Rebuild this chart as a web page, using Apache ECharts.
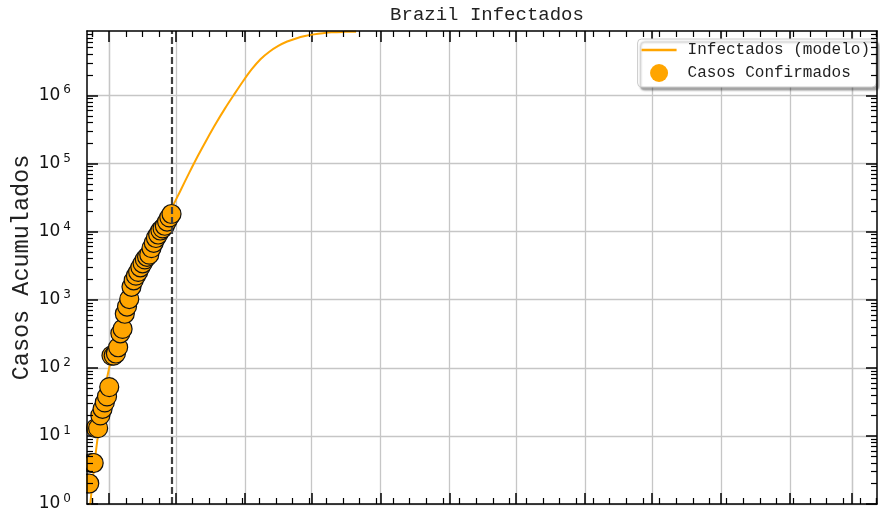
<!DOCTYPE html>
<html>
<head>
<meta charset="utf-8">
<script src="https://cdn.jsdelivr.net/npm/echarts@6/dist/echarts.min.js"></script>
<style>
  html, body { margin: 0; padding: 0; background: #fff; }
  #chart { width: 880px; height: 516px; }
</style>
</head>
<body>
<div id="chart"></div>
<script>
// casos confirmados (um ponto por dia)
var confirmedDates = [
  '2020-03-22', '2020-03-23', '2020-03-24', '2020-03-25', '2020-03-26', '2020-03-27',
  '2020-03-28', '2020-03-29', '2020-03-30', '2020-03-31', '2020-04-01', '2020-04-02',
  '2020-04-03', '2020-04-04', '2020-04-05', '2020-04-06', '2020-04-07', '2020-04-08',
  '2020-04-09', '2020-04-10', '2020-04-11', '2020-04-12', '2020-04-13', '2020-04-14',
  '2020-04-15', '2020-04-16', '2020-04-17', '2020-04-18', '2020-04-19', '2020-04-20',
  '2020-04-21', '2020-04-22', '2020-04-23', '2020-04-24', '2020-04-25', '2020-04-26',
  '2020-04-27', '2020-04-28', '2020-04-29'
];
var confirmedValues = [
  2, 2, 4, 4, 13, 13, 20, 25, 31, 38, 52, 151, 151, 162, 200, 321, 372, 621, 793,
  1021, 1546, 1924, 2247, 2554, 2985, 3417, 3904, 4256, 4579, 5717, 6836, 8044,
  9056, 10360, 11130, 12161, 14034, 16170, 18092
];

// curva do modelo
var modelDates = [
  '2020-03-22', '2020-03-23', '2020-03-24', '2020-03-25', '2020-03-26', '2020-03-28',
  '2020-03-30', '2020-04-01', '2020-04-03', '2020-04-06', '2020-04-09', '2020-04-13',
  '2020-04-17', '2020-04-21', '2020-04-25', '2020-04-29', '2020-05-03', '2020-05-07',
  '2020-05-11', '2020-05-15', '2020-05-19', '2020-05-23', '2020-05-27', '2020-05-31',
  '2020-06-04', '2020-06-08', '2020-06-12', '2020-06-16', '2020-06-20', '2020-06-24',
  '2020-06-28', '2020-07-02', '2020-07-06', '2020-07-10', '2020-07-16', '2020-07-21'
];
var modelValues = [
  0.355, 0.708, 1.48, 3.02, 5.89, 18.6, 47.9, 100, 186, 398, 750, 1549,
  3020, 5821, 11220, 21630, 39810, 73280, 131800, 229100, 389000, 638300,
  1012000, 1585000, 2399000, 3388000, 4365000, 5309000, 6166000, 6839000,
  7413000, 7852000, 8185000, 8414000, 8551000, 8610000
];

// data de corte (ultimo dado)
var cutDate = '2020-04-29';

// ticks
var monthTicks = [
  '2020-04-01', '2020-05-01', '2020-06-01', '2020-07-01', '2020-08-01', '2020-09-01',
  '2020-10-01', '2020-11-01', '2020-12-01', '2021-01-01', '2021-02-01', '2021-03-01'
];
var yMajorTicks = [1, 10, 100, 1000, 10000, 100000, 1000000];
var yMinorMult = [2, 3, 4, 5, 6, 7, 8, 9];

var xStart = '2020-03-22';
var xEnd = '2021-03-12 05:00';
var yMin = 1;
var yMax = 8.8e6;

function toTime(s) {
  return echarts.time.parse(s).getTime();
}

var monthTickTimes = monthTicks.map(toTime);
// minor ticks a cada 1/4 do primeiro intervalo (30 dias)
var xMinorTimes = [];
var firstMajor = monthTickTimes[0];
var minorStep = (monthTickTimes[1] - monthTickTimes[0]) / 4;
for (var k = -1; k < 48; k++) {
  var t = firstMajor + k * minorStep;
  if (t >= toTime(xStart) && t <= toTime(xEnd) && monthTickTimes.indexOf(t) < 0) {
    xMinorTimes.push(t);
  }
}
var yMinorTicks = [];
yMajorTicks.forEach(function (base) {
  yMinorMult.forEach(function (m) {
    if (base * m < yMax) yMinorTicks.push(base * m);
  });
});

var black = '#000';
var fontMono = 'Liberation Mono';

function xAxisBase(pos) {
  return {
    type: 'time',
    position: pos,
    min: toTime(xStart),
    max: toTime(xEnd),
    axisLabel: { show: false },
    axisLine: { show: false },
    splitLine: { show: false },
    axisTick: { show: false }
  };
}
function yAxisBase(pos) {
  return {
    type: 'log',
    logBase: 10,
    position: pos,
    min: yMin,
    max: yMax,
    axisLabel: { show: false },
    axisLine: { show: false },
    splitLine: { show: false },
    axisTick: { show: false }
  };
}

var xAxes = [];
// 0: bottom major + grid
var xa = xAxisBase('bottom');
xa.axisTick = { show: true, inside: true, length: 11, customValues: monthTickTimes, lineStyle: { color: black, width: 1.5 } };
xa.splitLine = { show: true, lineStyle: { color: '#c6c6c6', width: 1.3 } };
xAxes.push(xa);
// 1: bottom minor + spine
xa = xAxisBase('bottom');
xa.z = 5;
xa.axisLine = { show: true, onZero: false, lineStyle: { color: black, width: 1.5 } };
xa.axisTick = { show: true, inside: true, length: 6, customValues: xMinorTimes, lineStyle: { color: black, width: 1.2 } };
xAxes.push(xa);
// 2: top major
xa = xAxisBase('top');
xa.axisTick = { show: true, inside: true, length: 11, customValues: monthTickTimes, lineStyle: { color: black, width: 1.5 } };
xAxes.push(xa);
// 3: top minor + spine
xa = xAxisBase('top');
xa.z = 5;
xa.axisLine = { show: true, onZero: false, lineStyle: { color: black, width: 1.5 } };
xa.axisTick = { show: true, inside: true, length: 6, customValues: xMinorTimes, lineStyle: { color: black, width: 1.2 } };
xAxes.push(xa);

var yAxes = [];
var ya = yAxisBase('left');
ya.name = 'Casos Acumulados';
ya.nameLocation = 'middle';
ya.nameGap = 53;
ya.nameMoveOverlap = false;
ya.nameTextStyle = { fontFamily: fontMono, fontSize: 23.5, color: '#222' };
ya.axisTick = { show: true, inside: true, length: 11, customValues: yMajorTicks, lineStyle: { color: black, width: 1.5 } };
ya.splitLine = { show: true, lineStyle: { color: '#c6c6c6', width: 1.3 } };
ya.axisLabel = {
  show: true,
  margin: 16,
  customValues: yMajorTicks,
  formatter: function (v) {
    return '{b|10}{e|' + Math.round(Math.log10(v)) + '}';
  },
  rich: {
    b: { fontFamily: 'DejaVu Sans', fontSize: 17, lineHeight: 22, color: '#111' },
    e: { fontFamily: 'DejaVu Sans', fontSize: 12, lineHeight: 12, verticalAlign: 'top', color: '#111', padding: [0, 0, 0, 3] }
  }
};
yAxes.push(ya);
ya = yAxisBase('left');
ya.z = 5;
ya.axisLine = { show: true, onZero: false, lineStyle: { color: black, width: 1.5 } };
ya.axisTick = { show: true, inside: true, length: 6, customValues: yMinorTicks, lineStyle: { color: black, width: 1.2 } };
yAxes.push(ya);
ya = yAxisBase('right');
ya.axisTick = { show: true, inside: true, length: 11, customValues: yMajorTicks, lineStyle: { color: black, width: 1.5 } };
yAxes.push(ya);
ya = yAxisBase('right');
ya.z = 5;
ya.axisLine = { show: true, onZero: false, lineStyle: { color: black, width: 1.5 } };
ya.axisTick = { show: true, inside: true, length: 6, customValues: yMinorTicks, lineStyle: { color: black, width: 1.2 } };
yAxes.push(ya);

var chart = echarts.init(document.getElementById('chart'), null, { renderer: 'canvas' });

var option = {
  animation: false,
  backgroundColor: '#fff',
  title: {
    text: 'Brazil Infectados',
    left: 482,
    textAlign: 'center',
    top: 0,
    textStyle: { fontFamily: fontMono, fontSize: 19, fontWeight: 'normal', color: '#222' }
  },
  legend: {
    orient: 'vertical',
    right: 4,
    top: 39,
    data: [
      // linha simples, sem marcador
      { name: 'Infectados (modelo)', icon: 'path://M0,0L0.01,0M0,7.8L35,7.8L35,10.2L0,10.2ZM0,18L0.01,18' },
      { name: 'Casos Confirmados', icon: 'circle' }
    ],
    itemWidth: 35,
    itemHeight: 18,
    itemGap: 5,
    padding: [2, 6, 5, 4],
    backgroundColor: '#fff',
    borderColor: '#cccccc',
    borderWidth: 1,
    borderRadius: 4,
    shadowColor: 'rgba(0,0,0,0.35)',
    shadowOffsetX: 3,
    shadowOffsetY: 3,
    shadowBlur: 2,
    itemStyle: { borderWidth: 0 },
    textStyle: { fontFamily: fontMono, fontSize: 16, color: '#222', padding: [0, 0, 0, 6] }
  },
  grid: {
    left: 87,
    right: 3,
    top: 31,
    bottom: 12,
    containLabel: false,
    outerBoundsMode: 'none'
  },
  xAxis: xAxes,
  yAxis: yAxes,
  graphic: [
    {
      // esconde a parte dos marcadores fora da area do grafico
      type: 'rect',
      z: 4,
      shape: { x: 74, y: 31, width: 12.2, height: 473 },
      style: { fill: '#fff' },
      silent: true
    }
  ],
  series: [
    {
      name: 'Infectados (modelo)',
      type: 'line',
      xAxisIndex: 0,
      yAxisIndex: 0,
      symbol: 'none',
      smooth: 0.3,
      z: 2,
      lineStyle: { color: '#ffa500', width: 2 },
      itemStyle: { color: '#ffa500' },
      data: modelDates.map(function (d, i) { return [d, modelValues[i]]; })
    },
    {
      name: 'Casos Confirmados',
      type: 'scatter',
      xAxisIndex: 0,
      yAxisIndex: 0,
      symbol: 'circle',
      symbolSize: 19,
      z: 3,
      itemStyle: { color: '#ffa500', borderColor: '#111', borderWidth: 1.2, opacity: 1 },
      data: confirmedDates.map(function (d, i) { return [d, confirmedValues[i]]; }),
      markLine: {
        silent: true,
        symbol: 'none',
        z: 4,
        label: { show: false },
        lineStyle: { color: '#404040', type: [7, 3], width: 2.2 },
        data: [{ xAxis: toTime(cutDate) }]
      }
    }
  ]
};

chart.setOption(option);
</script>
</body>
</html>
